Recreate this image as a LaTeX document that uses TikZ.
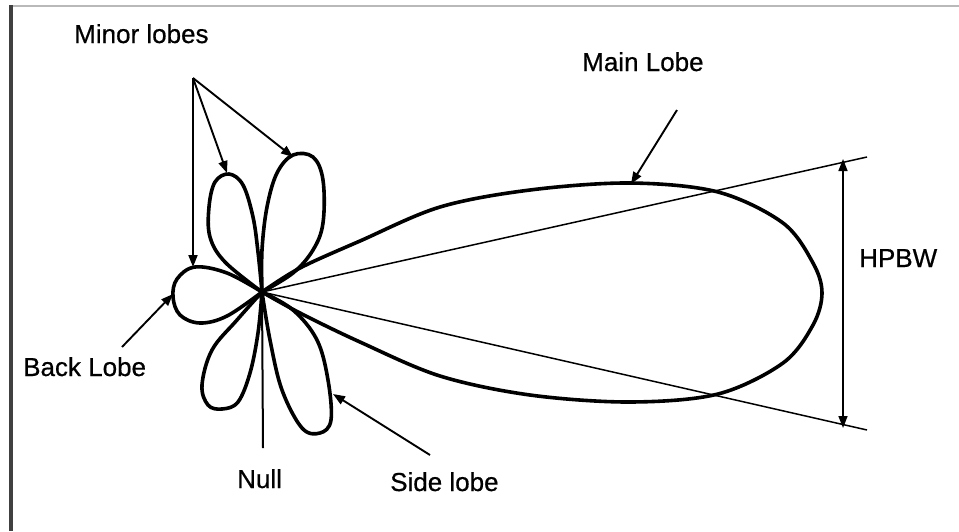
\documentclass[tikz,border=0pt]{standalone}
\usepackage{fontspec}
\setmainfont{Liberation Sans}[FakeBold=0.6]
\usetikzlibrary{arrows.meta}
\begin{document}
\begin{tikzpicture}[x=1pt,y=-1pt,
  lobe/.style={line width=3.6pt, line join=round, line cap=round},
  pointer/.style={line width=1.9pt, -{Triangle[length=12pt,width=9pt]}},
  beam/.style={line width=1.5pt},
  lbl/.style={anchor=base west, inner sep=0pt, font=\fontsize{26}{28}\selectfont}]
\useasboundingbox (0,0) rectangle (959,531);
\fill[white] (0,0) rectangle (959,531);
% frame edges
\draw[line width=1.8pt, gray!55] (9,5.8) -- (959,5.8);
\draw[line width=3.4pt, black!75] (11,5) -- (11,531);

% origin of the pattern
\coordinate (C) at (262,292);

% main lobe
\draw[lobe] plot[smooth, tension=0.55] coordinates {
  (C) (300,268) (360,241) (440,207) (530,190) (630,183) (718,192)
  (783,223) (813,263) (822,293) (813,325) (783,363) (718,394)
  (630,402) (530,395) (440,376) (360,342) (300,313) (C)};

% minor lobes
\draw[lobe] plot[smooth, tension=0.6] coordinates {
  (C) (258,252) (253,217) (243,185) (229,174) (215,182) (209,207) (210,237) (225,262) (C)};
\draw[lobe] plot[smooth, tension=0.6] coordinates {
  (C) (262,250) (267,207) (277,173) (293,155) (313,157) (323,180) (323,223) (313,250) (293,273) (C)};
\draw[lobe] plot[smooth, tension=0.6] coordinates {
  (C) (227,273) (195,267) (177,279) (173,297) (180,315) (200,323) (227,316) (C)};
\draw[lobe] plot[smooth, tension=0.6] coordinates {
  (C) (237,320) (212,350) (202,385) (208,405) (222,409) (238,402) (250,373) (258,333) (C)};
\draw[lobe] plot[smooth, tension=0.6] coordinates {
  (C) (293,310) (317,340) (328,380) (331,420) (320,433) (302,428) (282,390) (270,340) (C)};

% half-power beam edges
\coordinate (bu) at (867,157);
\coordinate (bl) at (867,430);
\draw[beam] (C) -- (bu);
\draw[beam] (C) -- (bl);
\coordinate (hu) at (843,159);
\coordinate (hl) at (843,428);
\draw[line width=1.6pt, {Triangle[length=12pt,width=9pt]}-{Triangle[length=12pt,width=9pt]}] (hu) -- (hl);

% labels
\node[lbl] (minor) at (74,43) {Minor lobes};
\node[lbl] (main) at (582,71) {Main Lobe};
\node[lbl] (hpbw) at (859,267) {HPBW};
\node[lbl] (back) at (23,376) {Back Lobe};
\node[lbl] (null) at (237,488) {Null};
\node[lbl] (side) at (390,491) {Side lobe};

% pointers
\coordinate (apex) at (193,78);
\coordinate (tBackTop) at (193,267);
\coordinate (tUL) at (227,173);
\coordinate (tUR) at (293,157);
\draw[pointer] (apex) -- (tBackTop);
\draw[pointer] (apex) -- (tUL);
\draw[pointer] (apex) -- (tUR);

\coordinate (mainFrom) at (677,110);
\coordinate (tMain) at (631,184);
\draw[pointer] (mainFrom) -- (tMain);

\coordinate (backFrom) at (122,347);
\coordinate (tBack) at (173,294);
\draw[pointer] (backFrom) -- (tBack);

\coordinate (sideFrom) at (430,455);
\coordinate (tSide) at (333,394);
\draw[pointer] (sideFrom) -- (tSide);

\coordinate (nullEnd) at (263,448);
\draw[line width=2pt] (nullEnd) -- (C);
\end{tikzpicture}
\end{document}
